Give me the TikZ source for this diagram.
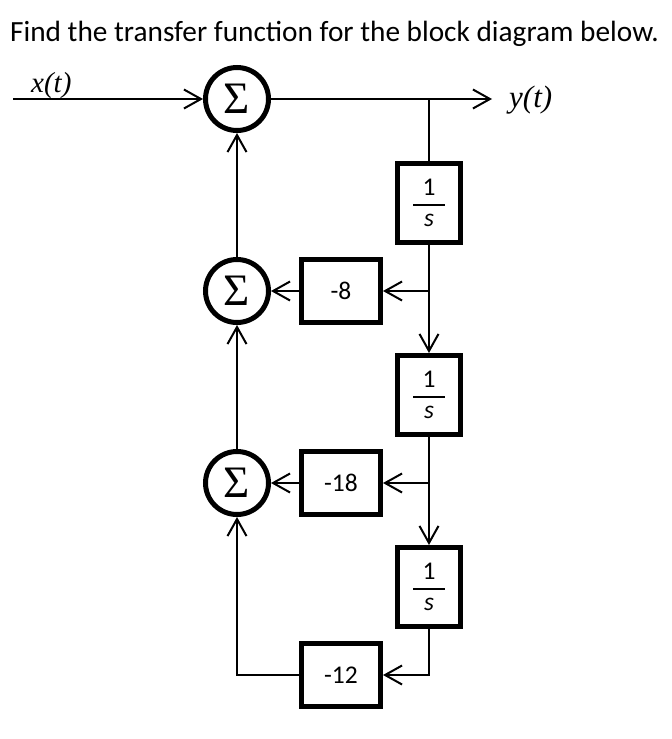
\documentclass[tikz,border=0pt]{standalone}
\usepackage{fontspec}
\setmainfont{Carlito}
\newfontfamily\tms{Liberation Serif}
\usetikzlibrary{arrows.meta}
\newcommand{\invs}{\vbox{\hbox to 32pt{\hss 1\hss}\kern9pt\hrule height 2pt\kern8pt\hbox to 32pt{\hss\itshape s\hss}}}
\newcommand{\sumsym}{\raisebox{-2pt}{\char"03A3}}
\tikzset{
  sumnode/.style={circle, draw, line width=5pt, minimum size=63pt, inner sep=0pt,
    font=\tms\fontsize{45}{45}\selectfont},
  intg/.style={draw, line width=5pt, minimum width=63pt, minimum height=79pt, inner sep=0pt,
    font=\fontsize{25.5}{25.5}\selectfont},
  gain/.style={draw, line width=5pt, minimum width=79pt, minimum height=63pt, inner sep=0pt,
    font=\fontsize{25.5}{25.5}\selectfont},
  conn/.style={line width=2pt},
  arr/.style={conn, -{Straight Barb[length=17pt,width=19pt]}},
  sig/.style={inner sep=0pt, anchor=base west, font=\tms\itshape\fontsize{29}{29}\selectfont}
}
\begin{document}
\begin{tikzpicture}[x=1pt, y=-1pt]
\useasboundingbox (0,0) rectangle (672,739);
\node[inner sep=0pt, anchor=base west, font=\fontsize{29.3}{30}\selectfont] (title) at (10,41) {Find the transfer function for the block diagram below.};
\node[sig] (xt) at (31,92) {x(t)};
\node[sig, font=\tms\itshape\fontsize{31}{31}\selectfont] (yt) at (509,107) {y(t)};

\node[sumnode] (s1) at (237,99) {\char"03A3};
\node[sumnode] (s2) at (237,291) {\char"03A3};
\node[sumnode] (s3) at (237,483) {\char"03A3};

\node[intg] (i1) at (429,203) {\invs};
\node[intg] (i2) at (429,395) {\invs};
\node[intg] (i3) at (429,587) {\invs};

\node[gain] (g1) at (341,291) {-8};
\node[gain] (g2) at (341,483) {-18};
\node[gain] (g3) at (341,675) {-12};

\coordinate (in) at (13,99);
\coordinate (out) at (492,99);
\coordinate (j0) at (429,99);
\coordinate (j1) at (429,291);
\coordinate (j2) at (429,483);

\draw[arr] (in) -- (s1);
\draw[arr] (s1) -- (out);
\draw[conn] (j0) -- (i1);
\draw[arr] (i1) -- (i2);
\draw[arr] (i2) -- (i3);
\draw[arr] (j1) -- (g1);
\draw[arr] (g1) -- (s2);
\draw[arr] (j2) -- (g2);
\draw[arr] (g2) -- (s3);
\draw[arr] (i3.south) |- (g3.east);
\draw[arr] (g3.west) -| (s3.south);
\draw[arr] (s2) -- (s1);
\draw[arr] (s3) -- (s2);
\end{tikzpicture}
\end{document}
